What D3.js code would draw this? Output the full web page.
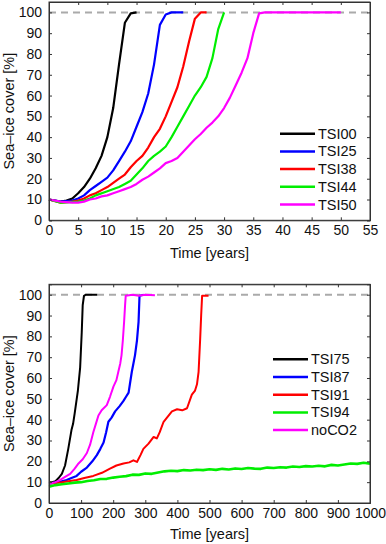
<!DOCTYPE html>
<html>
<head>
<meta charset="utf-8">
<script src="https://cdn.jsdelivr.net/npm/d3@7"></script>
<style>
  body { margin: 0; background: #fff; }
  svg text { font-family: "Liberation Sans", Arial, Helvetica, sans-serif; fill: #111; }
</style>
</head>
<body>
<div id="plots"></div>
<script>
// ---- data ----
// top panel: years 0-55
var topNames = ["TSI00", "TSI25", "TSI38", "TSI44", "TSI50"];
var topColors = ["#000000", "#0000ff", "#ff0000", "#00ee00", "#ff00ff"];
var tsi00 = [[0,10],[1,9.5],[2,9],[3,9.5],[4,10.5],[5,13],[6,16],[7,20],[8,25],[9,31],[10,40],[11,54],[12,75],[13,95],[14,99.5],[15,100]];
var tsi25 = [[0,10],[2,9],[4,9.5],[5,10.5],[6,12],[7,14.5],[8,16.5],[9,18.5],[10,20.5],[11,24],[12,28.5],[13,33],[14,38],[15,45],[16,52],[17,61],[18,75],[19,94],[20,99],[21,100],[23,100]];
var tsi38 = [[0,10],[2,8.5],[4,9],[5,9.5],[6,10.5],[7,12],[8,13],[9,14.5],[10,16],[11,18],[12,20],[13,22],[14,25.5],[15,28.5],[16,31],[17,35],[18,40],[19,44],[20,50],[21,57],[22,64],[23,74],[24,86],[25,97],[26,100],[27,100]];
var tsi44 = [[0,10],[2,8.5],[5,9],[6,9.5],[7,10.5],[8,12],[10,14],[12,16],[13,17.5],[14,19],[15,22],[16,25],[17,28.5],[18,31],[19,33],[20,35.5],[21,40],[22,45],[23,50],[24,55],[25,60],[26,64],[27,69],[28,78],[29,92],[30,100]];
var tsi50 = [[0,10],[2,9],[4,8.5],[5,8.5],[6,9],[7,10],[8,10.5],[9,11.5],[10,12],[11,13],[12,14],[13,15],[14,16],[15,17.5],[16,19.5],[17,21],[18,23],[19,25],[20,27.5],[21,28.5],[22,30],[23,33],[24,36],[25,39],[26,41.5],[27,44.5],[28,47],[29,50],[30,54],[31,59],[32,65],[33,71],[34,78],[35,90],[36,99.5],[37,100],[50,100]];
var topSeries = [tsi00, tsi25, tsi38, tsi44, tsi50];
var topXTicks = [0,5,10,15,20,25,30,35,40,45,50,55];

// bottom panel: years 0-1000
var botNames = ["TSI75", "TSI87", "TSI91", "TSI94", "noCO2"];
var botColors = ["#000000", "#0000ff", "#ff0000", "#00ee00", "#ff00ff"];
var tsi75 = [[0,10],[10,10],[20,10.5],[30,12],[40,14],[50,18],[60,26],[70,35],[75,38],[80,43],[90,54],[97,65],[102,82],[105,95],[109,99.5],[115,100],[150,100]];
var tsi87 = [[0,9.3],[30,10],[55,11],[70,12],[86,13],[100,15],[118,17],[135,20],[149,23],[160,26],[170,29],[178,34],[185,39],[195,41],[206,44],[220,46.5],[232,49],[240,51],[248,53],[252,57],[258,63],[263,67],[268,71],[274,78],[279,87],[282,99.5],[295,100]];
var tsi91 = [[0,9.3],[40,10],[86,11],[110,12],[138,13],[165,14.5],[190,16.5],[210,18],[232,19],[250,19.5],[263,20.5],[274,19.7],[285,23],[294,26],[310,28.5],[326,31.7],[336,31],[345,34],[357,39],[370,41.5],[383,44],[399,45],[415,44.5],[430,45.5],[445,52],[455,54],[461,57],[466,63],[471,79],[474,90],[477,99.5],[497,99.5]];
var tsi94 = [[0,7.8],[20,8.6],[40,9.0],[60,9.4],[80,9.8],[100,10.0],[120,10.6],[140,10.9],[160,11.5],[180,11.6],[200,12.2],[220,12.6],[240,12.9],[260,13.6],[280,13.5],[300,14.2],[320,14.0],[340,14.6],[360,15.2],[380,15.5],[400,15.3],[420,15.8],[440,15.6],[460,16.0],[480,15.8],[500,16.2],[520,15.9],[540,16.4],[560,16.1],[580,16.6],[600,16.3],[620,16.8],[640,16.5],[660,16.4],[680,17.0],[700,16.8],[720,17.2],[740,17.0],[760,17.5],[780,17.3],[800,17.7],[820,17.5],[840,17.9],[860,17.6],[880,18.3],[900,18.0],[920,18.5],[940,19.0],[960,18.8],[980,19.3],[1000,18.9]];
var noco2 = [[0,9.3],[20,10],[34,11],[50,12.5],[66,14],[80,16.5],[92,19],[105,21],[118,24],[128,28],[138,34],[146,38],[154,42],[164,44.5],[180,47],[190,51],[201,56],[210,59],[216,63],[222,67],[226,71],[230,78],[234,87],[237,95],[239,99.5],[260,100],[280,99.5],[300,100],[330,99.8]];
var botSeries = [tsi75, tsi87, tsi91, tsi94, noco2];
var botXTicks = [0,100,200,300,400,500,600,700,800,900,1000];

var yTicks = [0,10,20,30,40,50,60,70,80,90,100];

// ---- layout ----
var width = 386;
var height = 544;
var svg = d3.select("#plots")
            .append("svg")
            .attr("width", width)
            .attr("height", height);

function drawPanel(cfg) {
  var x = d3.scaleLinear().domain(cfg.xDomain).range([49, 370]);
  var y = d3.scaleLinear().domain([0, 105]).range([cfg.bottom, cfg.top]);
  var g = svg.append("g");

  // dashed 100% line
  g.append("line")
    .attr("x1", x(cfg.xDomain[0])).attr("x2", x(cfg.xDomain[1]))
    .attr("y1", y(100)).attr("y2", y(100))
    .attr("stroke", "#aaaaaa").attr("stroke-width", 2)
    .attr("stroke-dasharray", "7,5");

  // curves
  var line = d3.line().x(function(d) { return x(d[0]); }).y(function(d) { return y(d[1]); });
  cfg.series.forEach(function(s, i) {
    g.append("path")
      .datum(s)
      .attr("d", line)
      .attr("fill", "none")
      .attr("stroke", cfg.colors[i])
      .attr("stroke-width", cfg.lineWidth[i])
      .attr("stroke-linejoin", "round");
  });

  // axes with inward ticks on all four sides
  var tl = 3;
  g.append("g").attr("transform", "translate(0," + y(0) + ")")
    .call(d3.axisBottom(x).tickValues(cfg.xTicks).tickSize(-tl).tickPadding(5).tickFormat(d3.format("d")));
  g.append("g").attr("transform", "translate(0," + y(105) + ")")
    .call(d3.axisTop(x).tickValues(cfg.xTicks).tickSize(-tl).tickFormat(""));
  g.append("g").attr("transform", "translate(" + x(cfg.xDomain[0]) + ",0)")
    .call(d3.axisLeft(y).tickValues(yTicks).tickSize(-tl).tickPadding(7));
  g.append("g").attr("transform", "translate(" + x(cfg.xDomain[1]) + ",0)")
    .call(d3.axisRight(y).tickValues(yTicks).tickSize(-tl).tickFormat(""));
  g.selectAll(".domain").attr("stroke", "#333");
  g.selectAll(".tick line").attr("stroke", "#333");
  g.selectAll(".tick text").attr("font-size", 14).attr("fill", "#111");

  // box
  g.append("rect")
    .attr("x", x(cfg.xDomain[0])).attr("y", y(105))
    .attr("width", x(cfg.xDomain[1]) - x(cfg.xDomain[0]))
    .attr("height", y(0) - y(105))
    .attr("fill", "none").attr("stroke", "#333");

  // axis labels
  g.append("text")
    .text("Time [years]")
    .attr("font-size", 14.5)
    .attr("text-anchor", "middle")
    .attr("x", (x.range()[0] + x.range()[1]) / 2)
    .attr("y", cfg.xLabelY);
  g.append("text")
    .text("Sea\u2013ice cover [%]")
    .attr("font-size", 14.5)
    .attr("text-anchor", "middle")
    .attr("transform", "translate(14," + (y(0) + y(105)) / 2 + ") rotate(-90)");

  // legend
  cfg.names.forEach(function(n, i) {
    var ly = cfg.legY + i * 17.7;
    g.append("line")
      .attr("x1", cfg.legX).attr("x2", cfg.legX + 35)
      .attr("y1", ly).attr("y2", ly)
      .attr("stroke", cfg.colors[i]).attr("stroke-width", 2.5);
    g.append("text")
      .text(n)
      .attr("font-size", 14.5)
      .attr("x", cfg.legX + 38)
      .attr("y", ly + 5);
  });
}

drawPanel({
  xDomain: [0, 55], xTicks: topXTicks, top: 2, bottom: 220.3,
  series: topSeries, colors: topColors, names: topNames,
  lineWidth: [2.2, 2.2, 2.2, 2.2, 2.2],
  legX: 280, legY: 133.7, xLabelY: 258
});

drawPanel({
  xDomain: [0, 1000], xTicks: botXTicks, top: 284.3, bottom: 503,
  series: botSeries, colors: botColors, names: botNames,
  lineWidth: [2, 2.2, 2, 2.6, 2],
  legX: 273, legY: 359.3, xLabelY: 539
});
</script>
</body>
</html>
